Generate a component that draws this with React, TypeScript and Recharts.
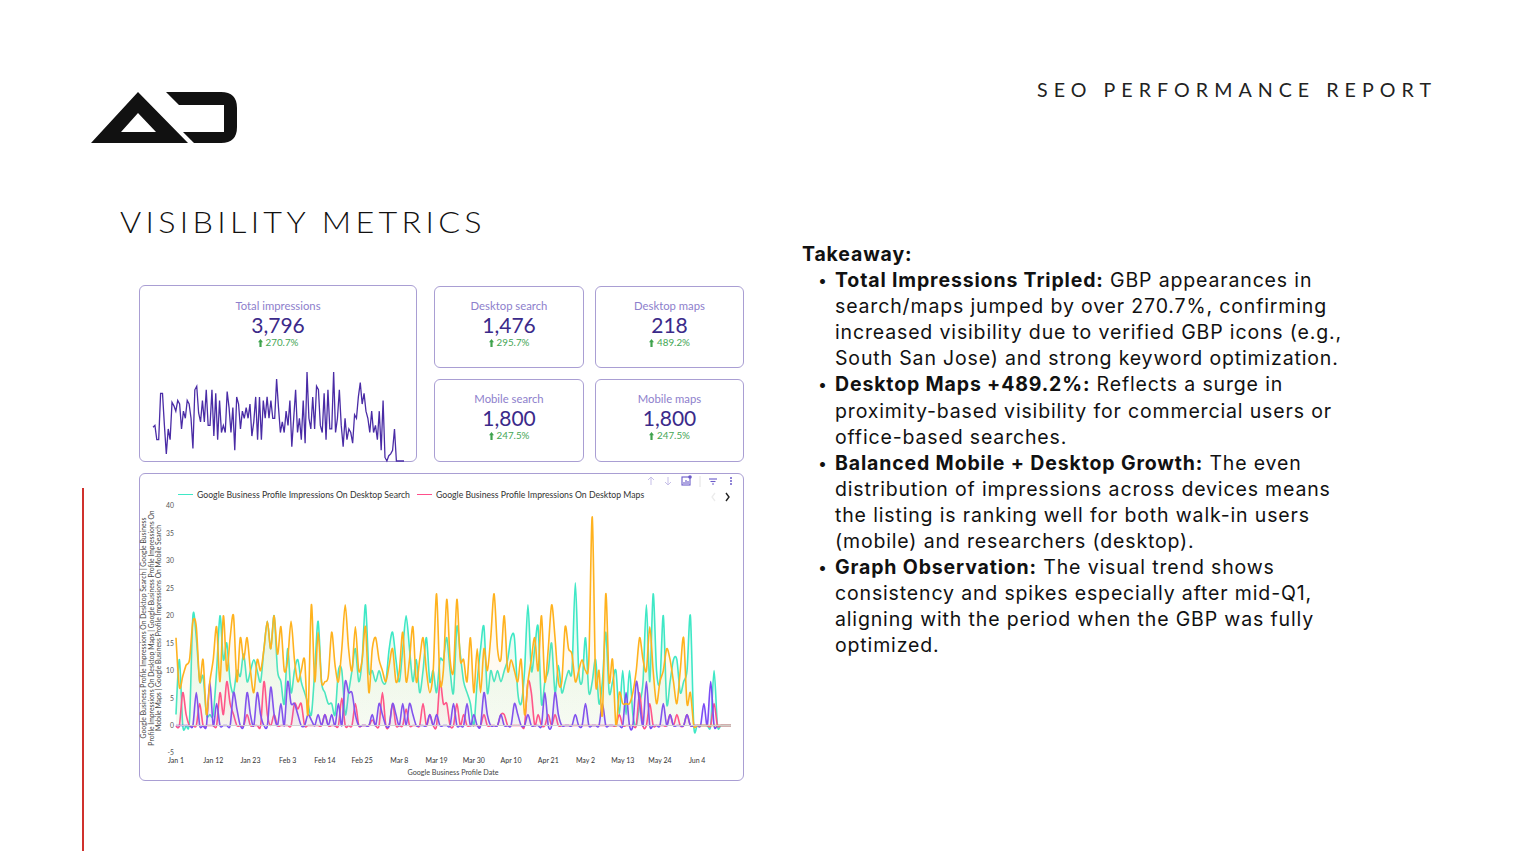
import React from "react";
import { AreaChart, Area, XAxis, YAxis, ReferenceLine, LineChart, Line } from "recharts";

const UI_FONT = "Lato, 'Noto Sans', sans-serif";
const TEXT_FONT = "Inter, 'Open Sans', sans-serif";
const CARD_BORDER = "#a99ed3";

// x axis: day index from Jan 1
const TICK_DAYS = [0, 11, 22, 33, 44, 55, 66, 77, 88, 99, 110, 121, 132, 143, 154];
const TICK_LABELS = [
  "Jan 1", "Jan 12", "Jan 23", "Feb 3", "Feb 14", "Feb 25", "Mar 8", "Mar 19",
  "Mar 30", "Apr 10", "Apr 21", "May 2", "May 13", "May 24", "Jun 4",
];
const Y_TICKS = [-5, 0, 5, 10, 15, 20, 25, 30, 35, 40];

// daily impressions, Jan 1 .. Jun 13
const DESKTOP_SEARCH = [
  2, 12, 0, 0, 1, 20, 16, 8, 9, 2,
  2, 2, 10, 20, 12, 15, 8, 6, 10, 9,
  13, 8, 10, 12, 10, 8, 14, 19, 14, 20,
  10, 8, 4, 14, 6, 10, 12, 8, 6, 4,
  2, 10, 19, 8, 6, 4, 4, 2, 10, 10,
  2, 6, 10, 14, 8, 12, 22, 10, 10, 8,
  10, 8, 8, 14, 17, 12, 8, 14, 20, 14,
  8, 12, 6, 10, 16, 8, 10, 6, 12, 12,
  16, 10, 6, 18, 13, 8, 6, 4, 0, 8,
  14, 18, 6, 10, 8, 10, 8, 10, 12, 16,
  16, 6, 4, 10, 22, 10, 14, 18, 4, 8,
  10, 15, 6, 11, 6, 8, 10, 10, 26, 10,
  8, 16, 6, 8, 12, 4, 8, 17, 6, 8,
  10, 2, 10, 2, 10, 2, 0, 4, 8, 22,
  8, 24, 10, 8, 20, 4, 8, 12, 12, 6,
  8, 10, 20, 0, 0, 0, 0, 0, 0, 10,
  0, 0, 0, 0, 0,
];
const DESKTOP_MAPS = [
  0, 0, 6, 2, 0, 0, 0, 4, 0, 0,
  0, 0, 0, 6, 2, 8, 4, 2, 0, 0,
  0, 2, 0, 0, 0, 0, 8, 2, 0, 2,
  0, 0, 0, 0, 0, 4, 3, 4, 0, 0,
  0, 0, 0, 0, 2, 0, 0, 0, 0, 5,
  0, 0, 0, 4, 0, 0, 0, 0, 1, 0,
  0, 6, 0, 0, 4, 0, 0, 0, 3, 0,
  0, 0, 0, 4, 0, 2, 0, 0, 8, 4,
  4, 0, 0, 4, 0, 2, 0, 0, 0, 0,
  0, 2, 0, 0, 0, 0, 2, 2, 0, 0,
  0, 0, 0, 0, 8, 6, 0, 2, 0, 0,
  2, 0, 2, 0, 0, 0, 0, 0, 0, 0,
  0, 0, 0, 0, 0, 0, 0, 0, 0, 0,
  0, 2, 0, 0, 0, 0, 0, 6, 0, 0,
  4, 0, 0, 0, 0, 0, 2, 0, 2, 0,
  0, 2, 0, 0, 0, 0, 0, 0, 0, 4,
  0, 0, 0, 0, 0,
];
const MOBILE_MAPS = [
  0, 0, 0, 0, 0, 0, 6, 0, 0, 0,
  8, 0, 4, 0, 0, 0, 0, 6, 3, 0,
  0, 6, 2, 0, 6, 2, 0, 0, 7, 2,
  0, 4, 0, 8, 4, 4, 2, 0, 0, 2,
  1, 0, 2, 0, 2, 0, 2, 0, 4, 0,
  8, 6, 6, 2, 0, 0, 0, 0, 2, 0,
  4, 2, 0, 0, 4, 2, 0, 4, 0, 4,
  2, 0, 0, 0, 0, 2, 0, 2, 0, 0,
  0, 0, 4, 0, 0, 0, 4, 0, 2, 0,
  0, 6, 2, 0, 0, 0, 2, 0, 0, 0,
  4, 2, 0, 0, 2, 0, 0, 0, 0, 6,
  0, 0, 6, 2, 0, 0, 0, 0, 2, 0,
  0, 4, 0, 0, 0, 0, 4, 0, 0, 0,
  0, 0, 0, 6, 0, 0, 8, 4, 0, 8,
  0, 0, 0, 0, 4, 0, 2, 0, 0, 0,
  0, 2, 0, 0, 0, 0, 4, 0, 8, 0,
  0, 0, 0, 0, 0,
];
const MOBILE_SEARCH = [
  16, 7, 9, 11, 12, 19, 18, 8, 12, 2,
  8, 12, 18, 8, 20, 10, 16, 20, 8, 16,
  12, 16, 10, 6, 12, 10, 14, 19, 14, 20,
  13, 18, 10, 12, 19, 12, 8, 10, 12, 2,
  22, 8, 17, 8, 8, 9, 17, 11, 8, 14,
  22, 14, 10, 18, 10, 12, 18, 6, 14, 16,
  12, 10, 8, 11, 14, 8, 10, 17, 8, 12,
  18, 8, 12, 16, 10, 6, 10, 24, 8, 10,
  23, 12, 10, 23, 12, 12, 8, 16, 6, 14,
  6, 14, 10, 16, 24, 14, 12, 20, 10, 12,
  10, 8, 12, 2, 8, 12, 16, 10, 20, 8,
  14, 22, 16, 8, 8, 18, 14, 13, 8, 10,
  12, 10, 12, 38, 8, 10, 2, 24, 8, 12,
  0, 6, 4, 4, 4, 6, 10, 16, 12, 10,
  18, 10, 4, 8, 10, 14, 12, 8, 4, 10,
  16, 4, 6, 0, 0, 0, 0, 0, 0, 0,
  0, 0, 0, 0, 0,
];

// sparkline of total daily impressions
const TOTAL_DAILY = [
  19, 20, 12, 12, 38, 38, 20, 4, 18, 12, 33, 31, 28, 34, 32, 18, 28, 24, 34, 32,
  24, 7, 40, 42, 27, 22, 34, 22, 40, 20, 20, 40, 14, 38, 12, 34, 16, 20, 16, 39,
  30, 16, 30, 6, 36, 32, 18, 28, 24, 30, 24, 32, 14, 22, 36, 12, 36, 12, 34, 24,
  36, 24, 34, 24, 24, 46, 30, 16, 22, 16, 28, 20, 34, 8, 24, 40, 16, 24, 12, 34,
  10, 50, 24, 18, 36, 18, 42, 40, 20, 16, 38, 12, 40, 18, 18, 50, 16, 24, 40, 20,
  8, 24, 12, 18, 16, 10, 26, 24, 36, 44, 32, 38, 28, 24, 16, 28, 16, 20, 12, 28,
  6, 34, 2, 0, 3, 4, 6, 18, 0, 0, 0, 0, 0,
];

const KPI_TITLES = ["Desktop search", "Desktop maps", "Mobile search", "Mobile maps"];
const KPI_VALUES = ["1,476", "218", "1,800", "1,800"];
const KPI_DELTAS = ["295.7%", "489.2%", "247.5%", "247.5%"];

const SERIES = [
  { key: "ds", name: "Google Business Profile Impressions On Desktop Search", color: "#3fe8c6", fill: "#52e09a" },
  { key: "dm", name: "Google Business Profile Impressions On Desktop Maps", color: "#ff4f8b", fill: "#ff8fb0" },
  { key: "mm", name: "Google Business Profile Impressions On Mobile Maps", color: "#7b4cf5", fill: "#9b7cf7" },
  { key: "ms", name: "Google Business Profile Impressions On Mobile Search", color: "#ffb21e", fill: "#ffc766" },
];

const TAKEAWAYS = [
  {
    head: "Total Impressions Tripled:",
    lines: [" GBP appearances in", "search/maps jumped by over 270.7%, confirming", "increased visibility due to verified GBP icons (e.g.,", "South San Jose) and strong keyword optimization."],
  },
  {
    head: "Desktop Maps +489.2%:",
    lines: [" Reflects a surge in", "proximity-based visibility for commercial users or", "office-based searches."],
  },
  {
    head: "Balanced Mobile + Desktop Growth:",
    lines: [" The even", "distribution of impressions across devices means", "the listing is ranking well for both walk-in users", "(mobile) and researchers (desktop)."],
  },
  {
    head: "Graph Observation:",
    lines: [" The visual trend shows", "consistency and spikes especially after mid-Q1,", "aligning with the period when the GBP was fully", "optimized."],
  },
];

// cardinal spline, like d3.curveCardinal
function cardinalCurve(tension: number) {
  const k = (1 - tension) / 6;
  return (context: any) => {
    let x0 = NaN, y0 = NaN, x1 = NaN, y1 = NaN, x2 = NaN, y2 = NaN;
    let pt = 0;
    let line = NaN;
    const seg = (x: number, y: number) => {
      context.bezierCurveTo(x1 + k * (x2 - x0), y1 + k * (y2 - y0), x2 + k * (x1 - x), y2 + k * (y1 - y), x2, y2);
    };
    return {
      areaStart() { line = 0; },
      areaEnd() { line = NaN; },
      lineStart() { x0 = x1 = x2 = y0 = y1 = y2 = NaN; pt = 0; },
      lineEnd() {
        if (pt === 2) context.lineTo(x2, y2);
        else if (pt === 3) seg(x1, y1);
        if (line || (line !== 0 && pt === 1)) context.closePath();
        line = 1 - line;
      },
      point(x: number, y: number) {
        x = +x; y = +y;
        if (pt === 0) {
          pt = 1;
          if (line) context.lineTo(x, y); else context.moveTo(x, y);
        } else if (pt === 1) {
          pt = 2; x1 = x; y1 = y;
        } else {
          pt = 3; seg(x, y);
        }
        x0 = x1; x1 = x2; x2 = x;
        y0 = y1; y1 = y2; y2 = y;
      },
    };
  };
}
const SMOOTH = cardinalCurve(0.1);

function UpArrow() {
  return (
    <svg width="5" height="8" viewBox="0 0 5 8" style={{ marginRight: 3 }}>
      <path d="M2.5 0 L5 3.2 L3.6 3.2 L3.6 8 L1.4 8 L1.4 3.2 L0 3.2 Z" fill="#3fa34d" />
    </svg>
  );
}

function KpiText({ title, value, delta, top }: { title: string; value: string; delta: string; top: number }) {
  return (
    <>
      <div style={{ position: "absolute", top, left: 0, right: 0, textAlign: "center", fontSize: 11.3, lineHeight: "12px", color: "#8d80cc" }}>{title}</div>
      <div style={{ position: "absolute", top: top + 12, left: 0, right: 0, textAlign: "center", fontSize: 21, lineHeight: "26px", color: "#3b2a8a" }}>{value}</div>
      <div style={{ position: "absolute", top: top + 37, left: 0, right: 0, display: "flex", justifyContent: "center", alignItems: "center", fontSize: 9.8, lineHeight: "11px", color: "#45a655" }}>
        <UpArrow />
        {delta}
      </div>
    </>
  );
}

function Card({ left, top, width, height, children }: any) {
  return (
    <div style={{ position: "absolute", left, top, width, height, boxSizing: "border-box", border: `1px solid ${CARD_BORDER}`, borderRadius: 6, background: "#fff", fontFamily: UI_FONT }}>
      {children}
    </div>
  );
}

export default function App() {
  const data = DESKTOP_SEARCH.map((v, i) => ({
    day: i,
    ds: v,
    dm: DESKTOP_MAPS[i],
    mm: MOBILE_MAPS[i],
    ms: MOBILE_SEARCH[i],
  }));
  const spark = TOTAL_DAILY.map((v, i) => ({ i, v }));
  const smallCards = [
    { left: 434, top: 286 },
    { left: 595, top: 286 },
    { left: 434, top: 379 },
    { left: 595, top: 379 },
  ];

  return (
    <div style={{ position: "absolute", left: 0, top: 0, width: 1515, height: 851, background: "#fff", overflow: "hidden" }}>
      {/* logo */}
      <svg width={260} height={160} style={{ position: "absolute", left: 0, top: 0 }}>
        <path d="M138 92 L91 143 L188 143 Z M138 113 L121 132 L156 132 Z" fill="#111" fillRule="evenodd" />
        <path d="M166 92 L221 92 Q237 92 237 108 L237 127 Q237 143 221 143 L194 143 L183 132 L224 132 L224 105 L179 105 Z" fill="#111" />
      </svg>

      <div style={{ position: "absolute", left: 1037, top: 79, fontFamily: "Lato", fontWeight: 400, fontSize: 18.5, letterSpacing: 5.7, color: "#222", whiteSpace: "nowrap", transform: "scaleX(1.06)", transformOrigin: "left top" }}>
        SEO PERFORMANCE REPORT
      </div>
      <div style={{ position: "absolute", left: 120, top: 203, fontFamily: "Lato", fontWeight: 300, fontSize: 30, letterSpacing: 4, color: "#111", whiteSpace: "nowrap", transform: "scaleX(1.077)", transformOrigin: "left top" }}>
        VISIBILITY METRICS
      </div>

      <div style={{ position: "absolute", left: 82, top: 488, width: 2, height: 363, background: "#d0312d" }} />

      {/* KPI cards */}
      <Card left={139} top={285} width={278} height={177}>
        <KpiText title="Total impressions" value="3,796" delta="270.7%" top={14} />
      </Card>
      <div style={{ position: "absolute", left: 152, top: 370 }}>
        <LineChart width={253} height={93} data={spark} margin={{ top: 2, right: 1, bottom: 2, left: 1 }}>
          <XAxis dataKey="i" hide />
          <YAxis hide domain={[0, 50]} />
          <Line type="linear" dataKey="v" stroke="#4a2ca6" strokeWidth={1.3} dot={false} isAnimationActive={false} />
        </LineChart>
      </div>
      {smallCards.map((c, i) => (
        <Card key={i} left={c.left} top={c.top} width={i % 2 ? 149 : 150} height={i < 2 ? 82 : 83}>
          <KpiText title={KPI_TITLES[i]} value={KPI_VALUES[i]} delta={KPI_DELTAS[i]} top={13} />
        </Card>
      ))}

      {/* timeseries card */}
      <Card left={139} top={473} width={605} height={308} />
      <div style={{ position: "absolute", left: 139, top: 473 }}>
        <AreaChart width={605} height={308} data={data} margin={{ top: 33, right: 13, left: 20, bottom: 14 }}>
          <defs>
            {SERIES.map((s) => (
              <linearGradient key={s.key} id={`g_${s.key}`} x1="0" y1="0" x2="0" y2="1">
                <stop offset="0%" stopColor={s.fill} stopOpacity={0.28} />
                <stop offset="100%" stopColor={s.fill} stopOpacity={0.08} />
              </linearGradient>
            ))}
          </defs>
          <XAxis
            dataKey="day"
            type="number"
            domain={[0, 164]}
            ticks={TICK_DAYS}
            tickFormatter={(d: number) => TICK_LABELS[TICK_DAYS.indexOf(d)]}
            axisLine={false}
            tickLine={false}
            tickSize={0}
            tickMargin={5}
            height={14}
            interval={0}
            tick={{ fontSize: 7, fill: "#333", fontFamily: UI_FONT }}
          />
          <YAxis
            domain={[-5, 40]}
            ticks={Y_TICKS}
            axisLine={false}
            tickLine={false}
            tickSize={0}
            tickMargin={2}
            width={17}
            interval={0}
            tick={{ fontSize: 6.8, fill: "#555", fontFamily: UI_FONT }}
          />
          <ReferenceLine y={0} stroke="#cfcfcf" strokeWidth={1} />
          {SERIES.map((s) => (
            <Area
              key={s.key}
              type={SMOOTH as any}
              dataKey={s.key}
              name={s.name}
              stroke={s.color}
              strokeWidth={1.6}
              fill={`url(#g_${s.key})`}
              dot={false}
              activeDot={false}
              isAnimationActive={false}
            />
          ))}
        </AreaChart>
      </div>

      {/* legend */}
      <div style={{ position: "absolute", left: 178, top: 489, display: "flex", alignItems: "center", fontFamily: UI_FONT, fontSize: 8.7, color: "#333", whiteSpace: "nowrap" }}>
        <span style={{ width: 15, height: 1.5, background: SERIES[0].color, marginRight: 4 }} />
        <span>{SERIES[0].name}</span>
        <span style={{ width: 15, height: 1.5, background: SERIES[1].color, marginLeft: 7, marginRight: 4 }} />
        <span>{SERIES[1].name}</span>
      </div>

      {/* toolbar */}
      <svg width={100} height={30} style={{ position: "absolute", left: 640, top: 474 }}>
        <g stroke="#c6bfe8" strokeWidth={1} fill="none">
          <path d="M11 3 L11 11 M8 6 L11 3 L14 6" />
          <path d="M28 3 L28 11 M25 8 L28 11 L31 8" />
        </g>
        <g stroke="#6b5bc9" strokeWidth={1.1} fill="none">
          <rect x={42} y={3} width={8} height={8} />
          <path d="M44 10 L44 8 M46 10 L46 6 M48 10 L48 7" />
        </g>
        <circle cx={50} cy={3} r={1.8} fill="#6b5bc9" />
        <line x1={60} y1={2} x2={60} y2={13} stroke="#e2e2e2" strokeWidth={1} />
        <g stroke="#6b5bc9" strokeWidth={1.1}>
          <line x1={69} y1={5} x2={77} y2={5} />
          <line x1={70.5} y1={7.5} x2={75.5} y2={7.5} />
          <line x1={72} y1={10} x2={74} y2={10} />
        </g>
        <g fill="#6b5bc9">
          <circle cx={91} cy={4} r={1} />
          <circle cx={91} cy={7} r={1} />
          <circle cx={91} cy={10} r={1} />
        </g>
        <path d="M75 19 L72 23 L75 27" stroke="#ececec" strokeWidth={1.3} fill="none" />
        <path d="M86 19 L89 23 L86 27" stroke="#222" strokeWidth={1.4} fill="none" />
      </svg>

      {/* y-axis title */}
      <div
        style={{
          position: "absolute",
          left: 152 - 130,
          top: 628 - 12,
          width: 260,
          height: 24,
          transform: "rotate(-90deg)",
          textAlign: "center",
          fontFamily: UI_FONT,
          fontSize: 6.8,
          lineHeight: "7.6px",
          color: "#444",
          whiteSpace: "nowrap",
        }}
      >
        <div>Google Business Profile Impressions On Desktop Search | Google Business</div>
        <div>Profile Impressions On Desktop Maps | Google Business Profile Impressions On</div>
        <div>Mobile Maps | Google Business Profile Impressions On Mobile Search</div>
      </div>
      <div style={{ position: "absolute", left: 353, top: 768, width: 200, textAlign: "center", fontFamily: UI_FONT, fontSize: 7.2, color: "#444" }}>
        Google Business Profile Date
      </div>

      {/* takeaways */}
      <div style={{ position: "absolute", left: 802, top: 241, fontFamily: TEXT_FONT, fontSize: 19.5, lineHeight: "26.1px", color: "#111", whiteSpace: "nowrap", letterSpacing: 0.85 }}>
        <div style={{ fontWeight: 700 }}>Takeaway:</div>
        {TAKEAWAYS.map((t, i) => (
          <div key={i} style={{ position: "relative", paddingLeft: 33 }}>
            <span style={{ position: "absolute", left: 16, fontSize: 16 }}>•</span>
            {t.lines.map((ln, j) => (
              <div key={j}>
                {j === 0 && <span style={{ fontWeight: 700 }}>{t.head}</span>}
                {ln}
              </div>
            ))}
          </div>
        ))}
      </div>
    </div>
  );
}
